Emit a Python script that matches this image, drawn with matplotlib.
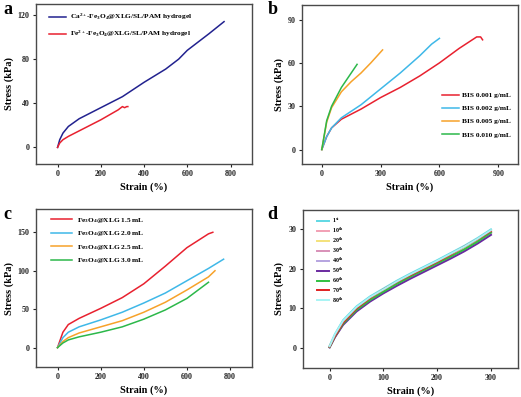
import numpy as np
import matplotlib
matplotlib.use('Agg')
import matplotlib.pyplot as plt

plt.rcParams['font.family'] = ['Liberation Serif', 'DejaVu Serif']
plt.rcParams['font.weight'] = 'bold'
plt.rcParams['mathtext.fontset'] = 'custom'
plt.rcParams['mathtext.rm'] = 'Liberation Serif:bold'
plt.rcParams['mathtext.it'] = 'Liberation Serif:bold:italic'
plt.rcParams['mathtext.bf'] = 'Liberation Serif:bold'
plt.rcParams['mathtext.default'] = 'rm'
plt.rcParams['axes.linewidth'] = 1.0

# panel a
a_strain_ca = [0, 10, 25, 50, 100, 200, 300, 400, 500, 560, 600, 700, 770]
a_stress_ca = [0, 7, 13, 19, 26, 36, 46, 59, 71, 80, 88, 103, 114]
a_strain_fe = [0, 10, 25, 50, 100, 200, 280, 300, 310, 320, 325]
a_stress_fe = [0, 4, 7, 10, 15, 25, 34, 37, 36, 37, 37]
a_labels = [r'Ca$^{2+}$-Fe$_3$O$_4$@XLG/SL/PAM hydrogel',
            r'Fe$^{2+}$-Fe$_3$O$_4$@XLG/SL/PAM hydrogel']

# panel b
b_labels = ['BIS 0.001 g/mL', 'BIS 0.002 g/mL', 'BIS 0.005 g/mL', 'BIS 0.010 g/mL']
b_strain = [
    [0, 25, 50, 100, 200, 300, 400, 500, 600, 700, 790, 810, 820],
    [0, 25, 50, 100, 200, 300, 400, 500, 560, 600],
    [0, 25, 50, 100, 150, 200, 250, 310],
    [0, 25, 50, 100, 140, 180],
]
b_stress = [
    [0, 9, 15, 21, 28, 36, 43, 51, 60, 70, 78, 78, 76],
    [0, 9, 15, 22, 31, 42, 53, 65, 73, 77],
    [0, 19, 29, 40, 47, 53, 60, 69],
    [0, 20, 30, 43, 51, 59],
]

# panel c
c_labels = [r'Fe$_3$O$_4$@XLG 1.5 mL', r'Fe$_3$O$_4$@XLG 2.0 mL',
            r'Fe$_3$O$_4$@XLG 2.5 mL', r'Fe$_3$O$_4$@XLG 3.0 mL']
c_strain = [
    [0, 25, 50, 100, 200, 300, 400, 500, 600, 700, 720],
    [0, 25, 50, 100, 200, 300, 400, 500, 600, 700, 770],
    [0, 25, 50, 100, 200, 300, 400, 500, 600, 700, 730],
    [0, 25, 50, 100, 200, 300, 400, 500, 600, 700],
]
c_stress = [
    [0, 20, 30, 38, 51, 65, 83, 106, 130, 148, 150],
    [0, 13, 20, 27, 36, 46, 58, 71, 87, 103, 115],
    [0, 8, 13, 19, 27, 35, 46, 59, 75, 92, 100],
    [0, 6, 10, 14, 20, 27, 37, 49, 64, 85],
]

# panel d
d_labels = [r'1$^{st}$', r'10$^{th}$', r'20$^{th}$', r'30$^{th}$', r'40$^{th}$',
            r'50$^{th}$', r'60$^{th}$', r'70$^{th}$', r'80$^{th}$']
d_strain = [0, 10, 25, 50, 75, 100, 125, 150, 175, 200, 225, 250, 275, 300]
d_stress = [
    [0.5, 3.5, 7.0, 10.5, 13.0, 15.0, 17.0, 18.8, 20.5, 22.2, 24.0, 25.8, 27.8, 30.0],
    [0.3, 3.0, 6.3, 9.8, 12.3, 14.4, 16.3, 18.0, 19.7, 21.4, 23.1, 25.0, 27.0, 29.3],
    [0.3, 3.0, 6.2, 9.6, 12.1, 14.2, 16.1, 17.9, 19.6, 21.3, 23.0, 24.9, 26.9, 29.2],
    [0.2, 2.9, 6.1, 9.5, 12.0, 14.1, 16.0, 17.8, 19.5, 21.2, 22.9, 24.8, 26.8, 29.0],
    [0.2, 2.8, 6.0, 9.4, 11.9, 14.0, 15.9, 17.7, 19.4, 21.1, 22.8, 24.6, 26.6, 28.8],
    [0.1, 2.7, 5.8, 9.2, 11.7, 13.8, 15.7, 17.5, 19.2, 20.9, 22.6, 24.4, 26.4, 28.6],
    [0.2, 2.9, 6.1, 9.6, 12.1, 14.2, 16.2, 18.0, 19.7, 21.4, 23.1, 24.9, 26.9, 29.2],
    [0.3, 3.0, 6.4, 10.0, 12.6, 14.8, 16.7, 18.4, 20.1, 21.8, 23.6, 25.6, 27.5, 29.6],
    [0.4, 3.4, 6.8, 10.3, 12.8, 14.8, 16.8, 18.6, 20.3, 22.0, 23.8, 25.6, 27.6, 29.8],
]

blue_a = '#22228f'
red = '#e8212f'
b_colors = ['#e8212f', '#3fb8e8', '#f7a22a', '#2cb84a']
c_colors = ['#e8212f', '#3fb8e8', '#f7a22a', '#2cb84a']
d_colors = ['#5fd8e4', '#f2a0b4', '#f4e27a', '#d890b8', '#b6a4e0',
            '#6a2aa0', '#30c040', '#e02020', '#a8f4f4']

fig = plt.figure(figsize=(5.21, 3.97), dpi=100)

positions = [
    [0.069, 0.587, 0.415, 0.403],
    [0.580, 0.587, 0.414, 0.400],
    [0.069, 0.076, 0.414, 0.397],
    [0.581, 0.074, 0.413, 0.398],
]
axes = [fig.add_axes(p) for p in positions]


def style(ax, xlim, ylim, xticks, yticks):
    ax.set_xlim(*xlim)
    ax.set_ylim(*ylim)
    ax.set_xticks(xticks)
    ax.set_yticks(yticks)
    for s in ax.spines.values():
        s.set_color('#4a4a4a')
    ax.tick_params(direction='out', length=2.5, width=0.8, labelsize=5.8,
                   colors='#222222', pad=2)
    ax.set_xlabel('Strain (%)', fontsize=7.4, fontweight='bold', labelpad=3)
    ax.set_ylabel('Stress (kPa)', fontsize=7.4, fontweight='bold', labelpad=3)


ax = axes[0]
ax.plot(a_strain_ca, a_stress_ca, color=blue_a, lw=1.1, label=a_labels[0])
ax.plot(a_strain_fe, a_stress_fe, color=red, lw=1.1, label=a_labels[1])
style(ax, (-100, 900), (-15, 130), [0, 200, 400, 600, 800], [0, 40, 80, 120])
ax.legend(loc='upper left', bbox_to_anchor=(0.03, 0.99), frameon=False,
          fontsize=5.3, handlelength=2.3, handletextpad=0.5, labelspacing=0.9)

ax = axes[1]
for xs, ys, c, lab in zip(b_strain, b_stress, b_colors, b_labels):
    ax.plot(xs, ys, color=c, lw=1.1, label=lab)
style(ax, (-100, 1000), (-10, 100), [0, 300, 600, 900], [0, 30, 60, 90])
ax.legend(loc='center right', bbox_to_anchor=(1.0, 0.31), frameon=False,
          fontsize=5.3, handlelength=2.3, handletextpad=0.5, labelspacing=0.95)

ax = axes[2]
for xs, ys, c, lab in zip(c_strain, c_stress, c_colors, c_labels):
    ax.plot(xs, ys, color=c, lw=1.1, label=lab)
style(ax, (-100, 900), (-25, 180), [0, 200, 400, 600, 800], [0, 50, 100, 150])
ax.legend(loc='upper left', bbox_to_anchor=(0.04, 1.0), frameon=False,
          fontsize=5.3, handlelength=2.8, handletextpad=0.7, labelspacing=0.6)

ax = axes[3]
for ys, c, lab in zip(d_stress, d_colors, d_labels):
    ax.plot(d_strain, ys, color=c, lw=1.4, label=lab)
style(ax, (-50, 350), (-5, 35), [0, 100, 200, 300], [0, 10, 20, 30])
ax.legend(loc='upper left', bbox_to_anchor=(0.04, 0.99), frameon=False,
          fontsize=4.3, handlelength=2.0, handletextpad=0.6, labelspacing=0.1)

for lab, (x, y) in zip('abcd', [(0.006, 0.997), (0.513, 0.997), (0.006, 0.482), (0.513, 0.482)]):
    fig.text(x, y, lab, fontsize=13, fontweight='bold', va='top')

fig.savefig('out.png', dpi=100)
plt.close()
